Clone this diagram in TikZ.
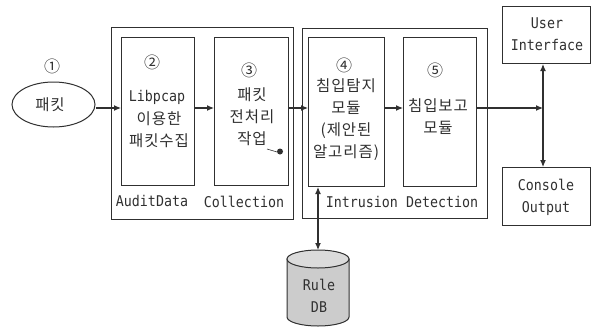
\documentclass[tikz,border=0pt]{standalone}
\usepackage{fontspec}
\usetikzlibrary{arrows.meta,shapes.geometric}
\setmainfont[FakeStretch=0.9]{DejaVu Sans Mono}
\newfontfamily\kr[LetterSpace=6]{Noto Sans CJK KR}
\newfontfamily\sym{Noto Sans CJK KR}
\definecolor{ink}{HTML}{303030}
\tikzset{
  every node/.style={text=ink},
  box/.style={draw=ink,line width=1pt,rectangle,anchor=north west,inner sep=0pt},
  lbl/.style={font=\fontsize{14.8}{22}\selectfont,align=center,inner sep=0pt},
  han/.style={font=\fontsize{15.5}{22}\selectfont\kr,align=center,inner sep=0pt},
  num/.style={font=\fontsize{16}{16}\selectfont\sym,inner sep=0pt},
  flow/.style={draw=ink,line width=1.1pt,-{Latex[length=7pt,width=6pt]}},
  both/.style={draw=ink,line width=1.1pt,{Latex[length=7pt,width=6pt]}-{Latex[length=7pt,width=6pt]}}
}
\begin{document}
\begin{tikzpicture}[x=1pt,y=-1pt]
\useasboundingbox (0,0) rectangle (597,327);
\coordinate (row) at (0,108);
\coordinate (jn) at (543,108);
\coordinate (dbx) at (318,0);
\coordinate (dbtop) at (318,250);
% containers
\node[box,minimum width=182pt,minimum height=192pt] (audit) at (111,27) {};
\node[box,minimum width=185pt,minimum height=190pt] (intr) at (302,28) {};
% boxes
\node[box,minimum width=73pt,minimum height=148pt] (b2) at (121,37) {};
\node[box,minimum width=74pt,minimum height=148pt] (b3) at (214,37) {};
\node[box,minimum width=76pt,minimum height=149pt] (b4) at (308,37) {};
\node[box,minimum width=73pt,minimum height=149pt] (b5) at (403,37) {};
\node[box,minimum width=88pt,minimum height=57pt] (ui) at (502,6) {};
\node[box,minimum width=88pt,minimum height=58pt] (co) at (502,167) {};
\node[draw=ink,line width=1pt,ellipse,minimum width=83pt,minimum height=45pt,inner sep=0pt] (pkt) at (53.5,104.5) {};
% database cylinder
\filldraw[draw=ink,line width=1pt,fill=black!20]
  (287,259) -- (287,317) arc[start angle=180,end angle=360,x radius=31pt,y radius=9pt]
  -- (349,259) -- cycle;
\filldraw[draw=ink,line width=1pt,fill=black!14] (318,259) ellipse[x radius=31pt,y radius=9pt];
% connectors
\draw[flow] (pkt.east |- row) -- (b2.west |- row);
\draw[flow] (b2.east |- row) -- (b3.west |- row);
\draw[flow] (b3.east |- row) -- (b4.west |- row);
\draw[flow] (b4.east |- row) -- (b5.west |- row);
\draw[flow] (b5.east |- row) -- (jn);
\draw[both] (ui.south -| jn) -- (co.north -| jn);
\draw[both] (b4.south -| dbx) -- (dbtop);
% numbers
\node[num] (n1) at (52,66) {①};
\node[num] (n2) at (152,62) {②};
\node[num] (n3) at (249,70) {③};
\node[num] (n4) at (344,65) {④};
\node[num] (n5) at (435,70) {⑤};
% texts
\node[han] (t1) at (50,105) {패킷};
\node[lbl] (t2a) at (157,97) {Libpcap};
\node[han] (t2b) at (159,130) {이용한\\패킷수집};
\node[han] (t3) at (252,117) {패킷\\전처리\\작업};
\node[han] (t4) at (346,120) {침입탐지\\모듈\\(제안된\\알고리즘)};
\node[han] (t5) at (438,117) {침입보고\\모듈};
\node[lbl] (tu) at (547,34.5) {User\\Interface};
\node[lbl] (tc) at (546,197) {Console\\Output};
\node[lbl] (ta) at (152,201) {AuditData};
\node[lbl] (tl) at (244,202) {Collection};
\node[lbl] (ti) at (402,202) {Intrusion Detection};
\node[lbl] (tr) at (319,295.5) {Rule\\DB};
% scan smudge
\draw[ink,line width=0.6pt] (267,149) -- (277,152);
\fill[ink] (280,151.5) circle (3pt);
\end{tikzpicture}
\end{document}
